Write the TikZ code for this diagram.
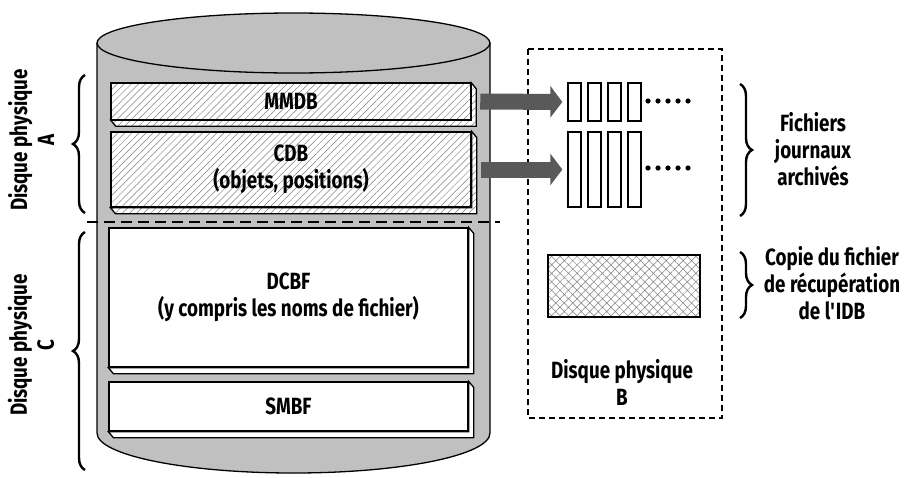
\documentclass[tikz,border=0pt]{standalone}
\usepackage{fontspec}
\setmainfont{Fira Sans}[FakeStretch=0.8]
\usetikzlibrary{arrows.meta,calc,patterns.meta,decorations.pathreplacing}
\definecolor{cylgray}{HTML}{C0C0C0}
\definecolor{arrgray}{HTML}{595959}
\newcommand\bevel[2][plain]{%
  \draw[#1] (#2.south west) -- ($(#2.south west)+(5,6)$) -- ($(#2.south east)+(5,6)$)
    -- ($(#2.north east)+(5,6)$) -- (#2.north east) -- (#2.south east) -- cycle;}
\begin{document}
\begin{tikzpicture}[x=1pt, y=-1pt,
    lbl/.style={font=\bfseries\fontsize{23.5}{27}\selectfont, align=center, inner sep=0pt},
    plain/.style={draw, fill=white, line width=1.3pt},
    hatched/.style={draw, line width=1.3pt, preaction={fill=white},
      pattern={Lines[angle=45,distance=5pt,line width=0.5pt]}, pattern color=gray},
    slab/.style={lbl, rectangle, minimum width=360pt},
    logbox/.style={draw, line width=1.3pt, minimum width=13pt, inner sep=0pt},
    bigarrow/.style={arrgray, line width=16pt, -{Triangle[length=12pt,width=31pt]}, shorten >=5pt},
    brc/.style={decorate, decoration={brace, amplitude=12pt}, line width=2.4pt}]
  \useasboundingbox (0,0) rectangle (904,477);
  \fill[cylgray] (97,43) -- (97,433) arc[start angle=180, end angle=360, x radius=196.5pt, y radius=40pt] -- (490,43) -- cycle;
  \draw[line width=1.3pt] (97,43) -- (97,433) arc[start angle=180, end angle=360, x radius=196.5pt, y radius=40pt] -- (490,43);
  \draw[line width=1.3pt, fill=cylgray] (293.5,43) ellipse[x radius=196.5pt, y radius=30pt];

  \node[slab, hatched, minimum height=37pt] (mmdb) at (291,101.5) {MMDB};
  \bevel[hatched]{mmdb}
  \node[slab, hatched, minimum height=75pt] (cdb) at (291,169.5) {CDB\\(objets, positions)};
  \bevel[hatched]{cdb}
  \node[slab, plain, minimum height=139pt, minimum width=359pt] (dcbf) at (288.5,297.5) {DCBF\\(y compris les noms de fichier)};
  \bevel{dcbf}
  \node[slab, plain, minimum height=49pt, minimum width=359pt] (smbf) at (288.5,406.5) {SMBF};
  \bevel{smbf}

  \draw[line width=1.5pt, dash pattern=on 11pt off 6pt] (87,222) -- (500,222);

  \draw[line width=1.3pt, dash pattern=on 6pt off 4pt] (528,49) rectangle (722,418);

  \foreach \i in {1,...,4} {
    \node[logbox, minimum height=38pt] (la\i) at ({554.5+20*\i},102) {};
    \node[logbox, minimum height=75pt] (lb\i) at ({554.5+20*\i},169.5) {};
  }
  \foreach \j in {0,...,4} {
    \fill (648+10*\j,101) circle[radius=2.6pt];
    \fill (648+10*\j,168) circle[radius=2.6pt];
  }
  \draw[bigarrow] ([xshift=9pt]mmdb.east) -- (la1.west);
  \draw[bigarrow] ([xshift=9pt]cdb.east) -- (lb1.west);

  \node[draw, line width=1.3pt, minimum width=152pt, minimum height=62pt, preaction={fill=white},
    pattern={Hatch[angle=45,distance=6pt,line width=0.5pt]}, pattern color=gray] (idb) at (624,286) {};
  \node[lbl] (diskb) at (622,382) {Disque physique\\B};

  \draw[brc] (740,84) -- (740,216);
  \node[lbl] (logs) at (813,149) {Fichiers\\journaux\\archivés};
  \draw[brc] (740,252) -- (740,318);
  \node[lbl] (copie) at (832,283) {Copie du fichier\\de récupération\\de l\textquotesingle IDB};

  \draw[brc] (85,213) -- (85,75);
  \node[lbl, rotate=90] (diska) at (31,140) {Disque physique\\A};
  \draw[brc] (85,470) -- (85,232);
  \node[lbl, rotate=90] (diskc) at (31,345) {Disque physique\\C};
\end{tikzpicture}
\end{document}
